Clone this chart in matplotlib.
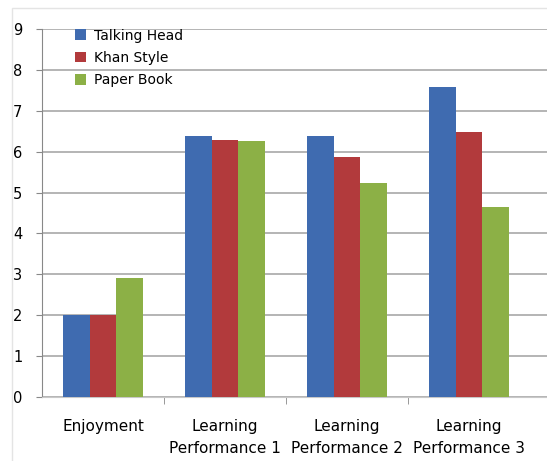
import matplotlib.pyplot as plt
from matplotlib.patches import Rectangle
import numpy as np

plt.rcParams["font.family"] = ["DejaVu Sans"]

categories = ["Enjoyment", "Learning\nPerformance 1", "Learning\nPerformance 2", "Learning\nPerformance 3"]
series = ["Talking Head", "Khan Style", "Paper Book"]
talking_head = [2.0, 6.38, 6.38, 7.57]
khan_style = [2.0, 6.28, 5.87, 6.49]
paper_book = [2.92, 6.26, 5.24, 4.65]
colors = ["#3F6BB0", "#B23A3C", "#8CB046"]

fig = plt.figure(figsize=(5.47, 4.61), dpi=100)
# faint outer chart frame
fig.patches.append(Rectangle((12 / 547, -0.1), 1.2, (461 - 8) / 461 + 0.1,
                             transform=fig.transFigure, fill=False,
                             edgecolor="#e4e4e4", lw=1))
ax = fig.add_axes([42 / 547, 64 / 461, 1 - 42 / 547, 368 / 461])

x = np.arange(len(categories))
w = 0.22
for i, (vals, name) in enumerate(zip([talking_head, khan_style, paper_book], series)):
    ax.bar(x + (i - 1) * w, vals, w, color=colors[i], label=name, zorder=3)

ax.set_ylim(0, 9)
ax.set_xlim(-0.5, 3.64)
ax.set_yticks(range(10))
ax.yaxis.grid(True, color="#a8a8a8", lw=1.2, zorder=0)
for s in ["top", "right"]:
    ax.spines[s].set_visible(False)
ax.spines["left"].set_color("#888888")
ax.spines["bottom"].set_color("#c8c8c8")
ax.tick_params(axis="y", length=4, color="#888888", labelsize=10.5, pad=10)
ax.set_xticks(x)
ax.set_xticklabels(categories, fontsize=11, linespacing=1.6)
ax.set_xticks(np.arange(0.5, 3.5, 1), minor=True)
ax.tick_params(axis="x", which="major", length=0, pad=16)
ax.tick_params(axis="x", which="minor", length=5, color="#888888")

ax.legend(loc="upper left", bbox_to_anchor=(0.04, 1.035), frameon=False,
          fontsize=10, handlelength=0.8, handleheight=0.8, labelspacing=0.6,
          handletextpad=0.6)

plt.savefig("out.png")
